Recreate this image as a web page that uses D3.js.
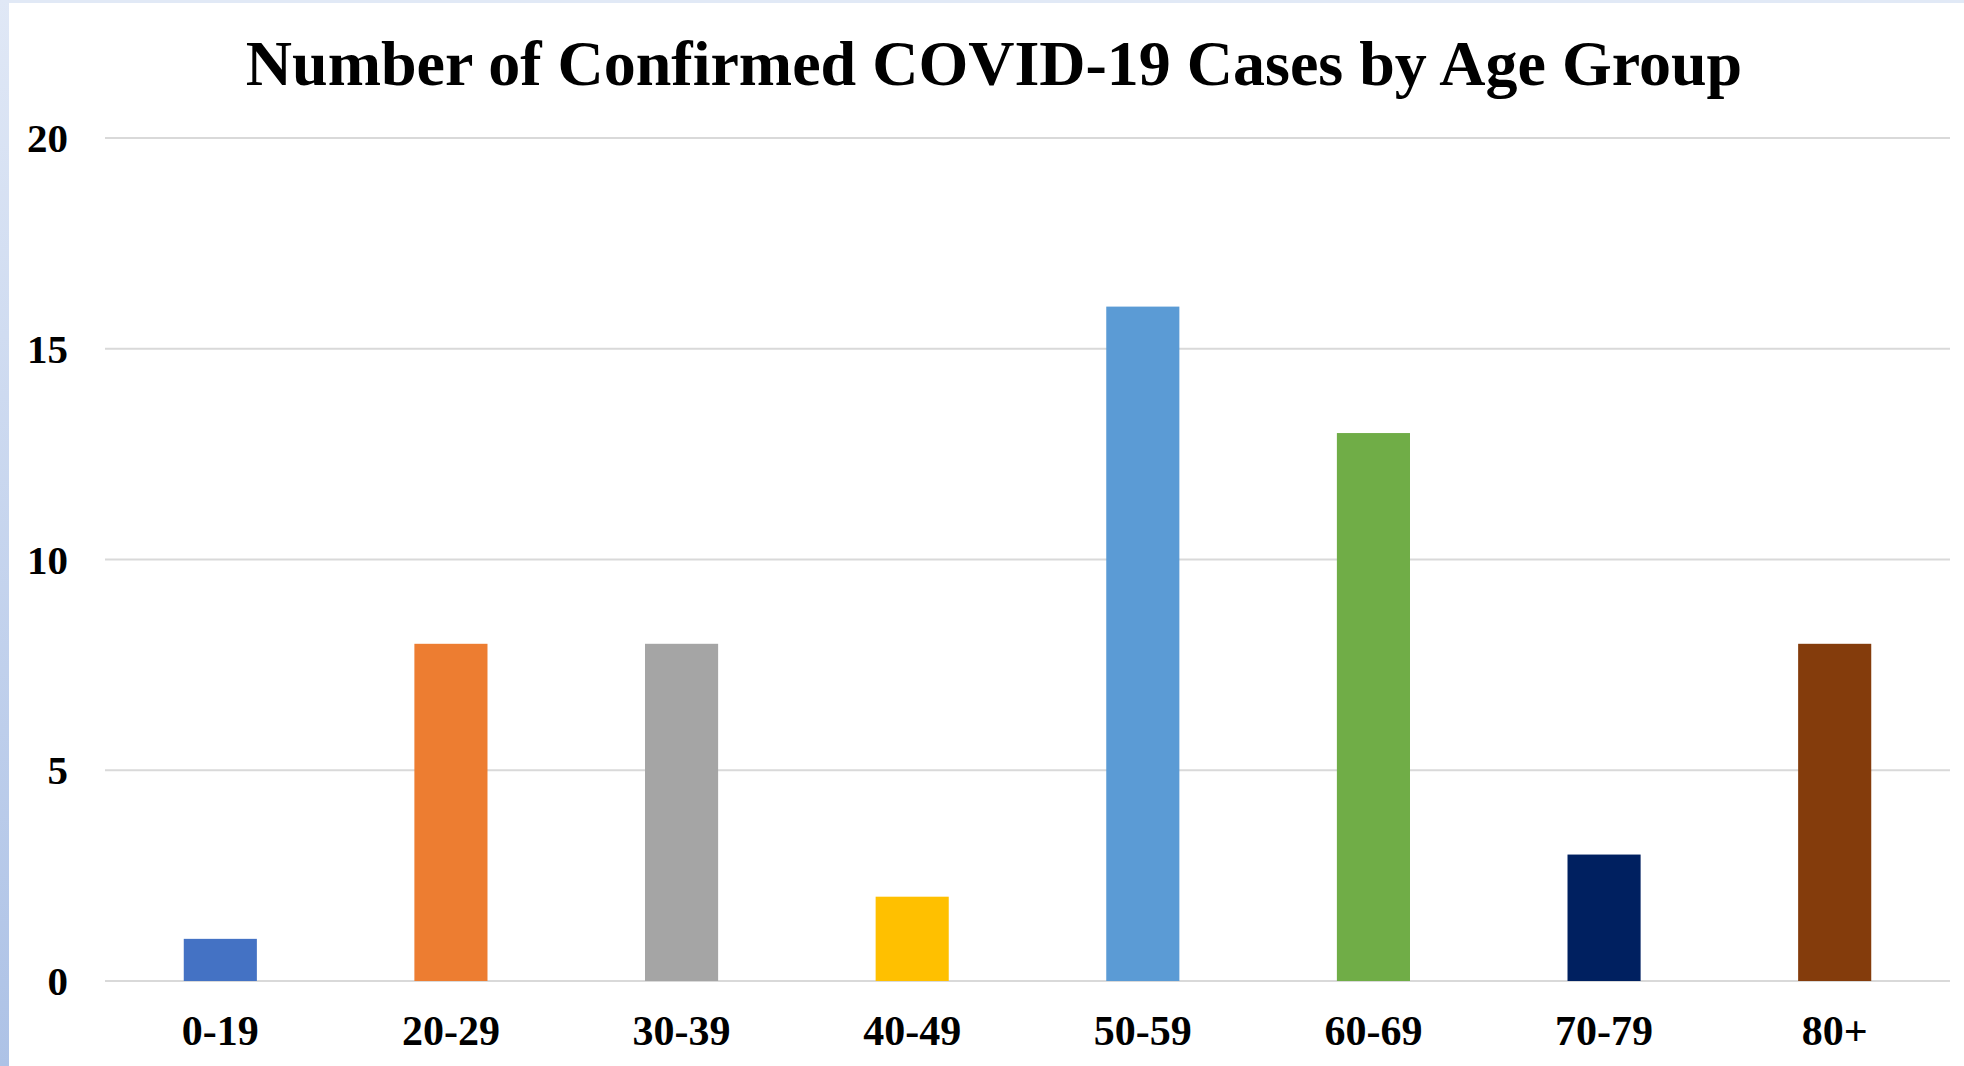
<!DOCTYPE html>
<html>
<head>
<meta charset="utf-8">
<script src="https://cdn.jsdelivr.net/npm/d3@7"></script>
<style>
  html, body { margin: 0; padding: 0; background: #fff; }
  svg { display: block; }
</style>
</head>
<body>
<script>
const ageGroups = ['0-19', '20-29', '30-39', '40-49', '50-59', '60-69', '70-79', '80+'];
const cases = [1, 8, 8, 2, 16, 13, 3, 8];
const barColors = ['#4472C4', '#ED7D31', '#A5A5A5', '#FFC000', '#5B9BD5', '#70AD47', '#002060', '#843C0C'];
const yTicks = [0, 5, 10, 15, 20];
const title = 'Number of Confirmed COVID-19 Cases by Age Group';

const W = 1964, H = 1066;
const margin = {left: 105, right: 14, top: 138, bottom: 85};

const svg = d3.select('body').append('svg')
    .attr('width', W)
    .attr('height', H);

// slide-ish frame: pale blue strips on the top and left edges
const defs = svg.append('defs');
const grad = defs.append('linearGradient')
    .attr('id', 'edge')
    .attr('x1', 0).attr('y1', 0).attr('x2', 0).attr('y2', 1);
grad.append('stop').attr('offset', '0%').attr('stop-color', '#e0e8f6');
grad.append('stop').attr('offset', '100%').attr('stop-color', '#adc2e6');

svg.append('rect').attr('width', W).attr('height', 3).attr('fill', '#e1e9f6');
svg.append('rect').attr('width', 9).attr('height', H).attr('fill', 'url(#edge)');

const x = d3.scaleBand()
    .domain(ageGroups)
    .range([margin.left, W - margin.right])
    .paddingInner(0.683)
    .paddingOuter(0.3415);

const y = d3.scaleLinear()
    .domain([0, 20])
    .range([H - margin.bottom, margin.top]);

// gridlines
svg.append('g')
    .selectAll('line')
    .data(yTicks)
    .join('line')
    .attr('x1', margin.left)
    .attr('x2', W - margin.right)
    .attr('y1', d => y(d))
    .attr('y2', d => y(d))
    .attr('stroke', '#d9d9d9')
    .attr('stroke-width', 2);

// y labels
svg.append('g')
    .selectAll('text')
    .data(yTicks)
    .join('text')
    .attr('x', 68)
    .attr('y', d => y(d) + 14)
    .attr('text-anchor', 'end')
    .attr('font-family', '"Liberation Serif", "Times New Roman", serif')
    .attr('font-weight', 'bold')
    .attr('font-size', 41)
    .text(d => d);

// bars
svg.append('g')
    .selectAll('rect')
    .data(ageGroups)
    .join('rect')
    .attr('x', d => x(d))
    .attr('width', x.bandwidth())
    .attr('y', (d, i) => y(cases[i]))
    .attr('height', (d, i) => y(0) - y(cases[i]))
    .attr('fill', (d, i) => barColors[i]);

// x labels
svg.append('g')
    .selectAll('text')
    .data(ageGroups)
    .join('text')
    .attr('x', d => x(d) + x.bandwidth() / 2)
    .attr('y', 1045)
    .attr('text-anchor', 'middle')
    .attr('font-family', '"Liberation Serif", "Times New Roman", serif')
    .attr('font-weight', 'bold')
    .attr('font-size', 42)
    .text(d => d);

svg.append('text')
    .attr('x', 994)
    .attr('y', 85)
    .attr('text-anchor', 'middle')
    .attr('font-family', '"Liberation Serif", "Times New Roman", serif')
    .attr('font-weight', 'bold')
    .attr('font-size', 64)
    .text(title);
</script>
</body>
</html>
